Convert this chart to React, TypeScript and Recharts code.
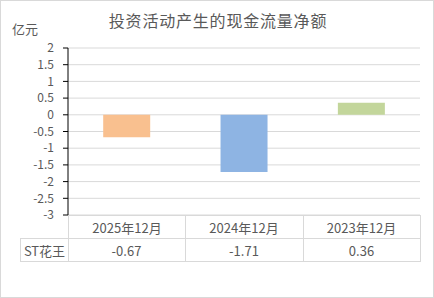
import { BarChart, Bar, XAxis, YAxis, CartesianGrid, Cell } from 'recharts'

const periods = ['2025年12月', '2024年12月', '2023年12月']
const seriesName = 'ST花王'
const values = [-0.67, -1.71, 0.36]
const barColors = ['#F9C08F', '#8EB4E3', '#C3D69B']
const yTicks = [2, 1.5, 1, 0.5, 0, -0.5, -1, -1.5, -2, -2.5, -3]

const font = '"Noto Sans CJK SC", "Microsoft YaHei", sans-serif'
const textColor = '#595959'
const lineColor = '#D9D9D9'

// plot box: x 68..420, y 48..215
const colEdges = [20, 68, 185, 303, 420]

export default function App() {
  const data = periods.map((p, i) => ({ period: p, value: values[i] }))

  const cell = (left: number, top: number, width: number, borders: string) => ({
    position: 'absolute' as const,
    left,
    top,
    width,
    height: 24,
    boxSizing: 'border-box' as const,
    borderStyle: 'solid',
    borderColor: lineColor,
    borderWidth: borders,
    display: 'flex',
    alignItems: 'center',
    justifyContent: 'center',
    fontSize: 13,
    color: textColor,
  })

  return (
    <div
      style={{
        position: 'absolute',
        left: 0,
        top: 0,
        width: 434,
        height: 298,
        boxSizing: 'border-box',
        border: `1px solid ${lineColor}`,
        background: '#fff',
        fontFamily: font,
      }}
    >
      <div
        style={{
          position: 'absolute',
          left: 0,
          top: 7,
          width: 434,
          textAlign: 'center',
          fontSize: 16,
          letterSpacing: 0.8,
          color: textColor,
        }}
      >
        投资活动产生的现金流量净额
      </div>
      <div style={{ position: 'absolute', left: 11, top: 18, fontSize: 13, color: textColor }}>
        亿元
      </div>

      <div style={{ position: 'absolute', left: -1, top: -1 }}>
        <BarChart
          width={434}
          height={298}
          data={data}
          margin={{ top: 48, right: 14, bottom: 83, left: 0 }}
          barCategoryGap="30%"
        >
          <CartesianGrid vertical={false} stroke={lineColor} />
          <XAxis dataKey="period" hide />
          <YAxis
            width={68}
            domain={[-3, 2]}
            ticks={yTicks}
            interval={0}
            stroke="#000"
            tickSize={5}
            tickMargin={9}
            tick={{ fill: textColor, fontSize: 12, fontFamily: font }}
          />
          <Bar dataKey="value" isAnimationActive={false}>
            {data.map((d, i) => (
              <Cell key={d.period} fill={barColors[i]} />
            ))}
          </Bar>
        </BarChart>
      </div>

      {/* data table under the plot */}
      {periods.map((p, i) => (
        <div key={p} style={cell(colEdges[i + 1] - 1, 214, colEdges[i + 2] - colEdges[i + 1] + 1, i === 0 ? '1px 1px 0 1px' : '1px 1px 0 0')}>
          {p}
        </div>
      ))}
      <div style={cell(colEdges[0] - 1, 237, colEdges[1] - colEdges[0] + 1, '1px 1px 1px 1px')}>{seriesName}</div>
      {values.map((v, i) => (
        <div key={i} style={cell(colEdges[i + 1] - 1, 237, colEdges[i + 2] - colEdges[i + 1] + 1, '1px 1px 1px 0')}>
          {v.toFixed(2)}
        </div>
      ))}
    </div>
  )
}
